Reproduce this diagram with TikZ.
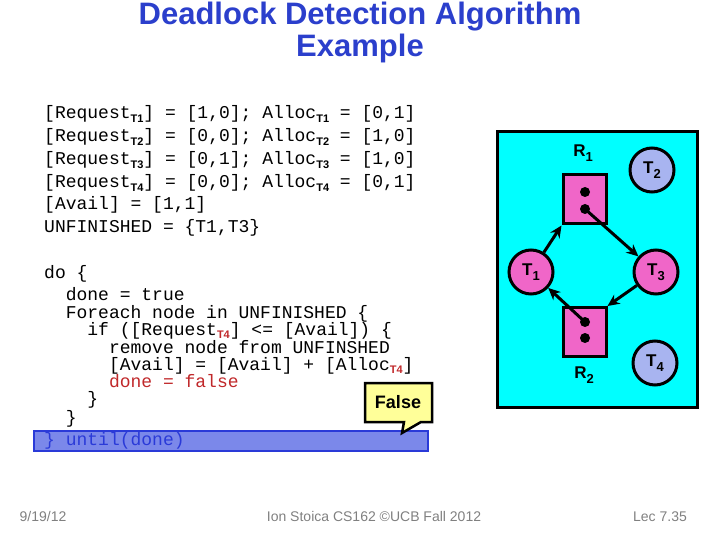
\documentclass[tikz,border=0pt]{standalone}
\usepackage{fontspec}
\setmainfont{Liberation Sans}
\setmonofont{Liberation Mono}
\usetikzlibrary{arrows.meta}

\definecolor{titleblue}{HTML}{2B3FCC}
\definecolor{codered}{HTML}{C0282A}
\definecolor{panelcyan}{HTML}{00FFFF}
\definecolor{nodepink}{HTML}{F066C8}
\definecolor{nodeblue}{HTML}{A8B4F0}
\definecolor{hlfill}{HTML}{7B88EA}
\definecolor{hldraw}{HTML}{2A3AD8}
\definecolor{notefill}{HTML}{FFFF99}
\definecolor{footgray}{HTML}{808080}

\newcommand{\tsub}[1]{\raisebox{-0.36ex}{\rmfamily\bfseries\fontsize{11}{11}\selectfont #1}}
\newcommand{\nsub}[1]{\raisebox{-0.5ex}{\fontsize{13}{13}\selectfont #1}}

\tikzset{
  title/.style={anchor=base, inner sep=0pt, text=titleblue, font=\fontsize{31}{31}\selectfont\bfseries},
  codeline/.style={anchor=base west, inner sep=0pt, font=\fontsize{18}{18}\selectfont\ttfamily},
  thread/.style={circle, draw, line width=3pt, minimum size=44pt, inner sep=0pt, font=\fontsize{17}{17}\selectfont\bfseries},
  resource/.style={rectangle, draw, line width=3pt, fill=nodepink, minimum width=43pt, minimum height=49pt, inner sep=0pt},
  rlabel/.style={inner sep=0pt, font=\fontsize{17}{17}\selectfont\bfseries},
  token/.style={circle, fill=black, minimum size=10pt, inner sep=0pt},
  edgearrow/.style={line width=3pt, -{Stealth[length=12pt,width=11pt]}},
  footer/.style={anchor=base, inner sep=0pt, text=footgray, font=\fontsize{14}{14}\selectfont},
}

\begin{document}
\begin{tikzpicture}[x=1pt, y=-1pt]
\useasboundingbox (0,0) rectangle (720,540);

\node[title] (title1) at (360,25) {Deadlock Detection Algorithm};
\node[title] (title2) at (360,57) {Example};

% state of the example
\node[codeline] (req1) at (44,119) {[Request\tsub{T1}] = [1,0]; Alloc\tsub{T1} = [0,1]};
\node[codeline] (req2) at (44,142) {[Request\tsub{T2}] = [0,0]; Alloc\tsub{T2} = [1,0]};
\node[codeline] (req3) at (44,165) {[Request\tsub{T3}] = [0,1]; Alloc\tsub{T3} = [1,0]};
\node[codeline] (req4) at (44,188) {[Request\tsub{T4}] = [0,0]; Alloc\tsub{T4} = [0,1]};
\node[codeline] (avail) at (44,210) {[Avail] = [1,1]};
\node[codeline] (unfin) at (44,233) {UNFINISHED = \{T1,T3\}};

% algorithm
\draw[fill=hlfill, draw=hldraw, line width=2.5pt] (34,431) rectangle (428,451);
\node[codeline] (do) at (44,278) {do \{};
\node[codeline] (done1) at (65.6,300) {done = true};
\node[codeline] (foreach) at (65.6,318) {Foreach node in UNFINISHED \{};
\node[codeline] (if) at (87.2,335) {if ([Request{\color{codered}\tsub{T4}}] <= [Avail]) \{};
\node[codeline] (remove) at (108.8,353) {remove node from UNFINSHED};
\node[codeline] (add) at (108.8,370) {[Avail] = [Avail] + [Alloc{\color{codered}\tsub{T4}}]};
\node[codeline, text=codered] (done2) at (108.8,387) {done = false};
\node[codeline] (close1) at (87.2,404) {\}};
\node[codeline] (close2) at (65.6,423) {\}};
\node[codeline, text=hldraw] (until) at (44,445) {\} until(done)};

\draw[fill=notefill, line width=2.5pt, line join=miter]
  (365,383) -- (432,383) -- (432,422) -- (421,422) -- (402,433) -- (404,422) -- (365,422) -- cycle;
\node[inner sep=0pt, font=\fontsize{18}{18}\selectfont\bfseries] (note) at (398,402) {False};

% resource allocation graph
\draw[line width=3pt, fill=panelcyan] (497,132) rectangle (697,407);
\node[resource] (R1) at (584.5,199.5) {};
\node[resource] (R2) at (584.5,332) {};
\node[token] (r1a) at (585,192) {};
\node[token] (r1b) at (585,209) {};
\node[token] (r2a) at (585,322) {};
\node[token] (r2b) at (585,338) {};
\node[rlabel] (R1lab) at (583,153) {R\nsub{1}};
\node[rlabel] (R2lab) at (584,375) {R\nsub{2}};
\node[thread, fill=nodepink] (T1) at (531,272) {T\nsub{1}};
\node[thread, fill=nodeblue] (T2) at (652,170) {T\nsub{2}};
\node[thread, fill=nodepink] (T3) at (656,272) {T\nsub{3}};
\node[thread, fill=nodeblue] (T4) at (655,363) {T\nsub{4}};

\draw[edgearrow] (T1) -- (R1.south west);
\draw[edgearrow] (r1b.center) -- (T3);
\draw[edgearrow] (T3) -- (R2.north east);
\draw[edgearrow] (r2a.center) -- (T1);

\node[footer] (date) at (43,521) {9/19/12};
\node[footer] (course) at (374,521) {Ion Stoica CS162 ©UCB Fall 2012};
\node[footer] (lec) at (660,521) {Lec 7.35};
\end{tikzpicture}
\end{document}
